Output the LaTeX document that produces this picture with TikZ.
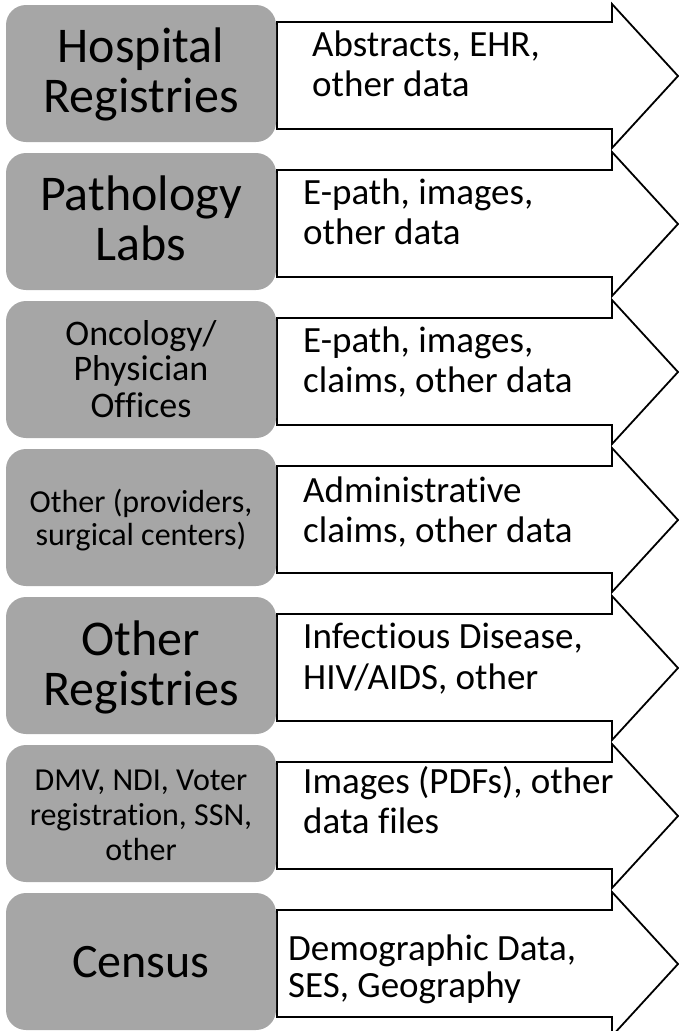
\documentclass[tikz,border=0pt]{standalone}
\usepackage{fontspec}
\setmainfont{Carlito}[Ligatures=NoCommon]
\definecolor{boxgray}{HTML}{A6A6A6}
\tikzset{
  srcbox/.style={fill=boxgray, draw=none, rounded corners=20pt, minimum width=270pt, minimum height=137pt, inner sep=0pt},
  flow/.style={fill=white, draw=black, line width=1.8pt, line join=miter},
  bigtxt/.style={anchor=base, inner sep=0pt, font=\fontsize{50}{50}\selectfont},
  midtxt/.style={anchor=base, inner sep=0pt, font=\fontsize{36}{36}\selectfont},
  smalltxt/.style={anchor=base, inner sep=0pt, font=\fontsize{32}{32}\selectfont},
  censustxt/.style={anchor=base, inner sep=0pt, font=\fontsize{48}{48}\selectfont},
  arrtxt/.style={anchor=base west, inner sep=0pt, font=\fontsize{37}{37}\selectfont},
}
\begin{document}
\begin{tikzpicture}[x=1pt,y=-1pt]
\useasboundingbox (0,0) rectangle (679,1031);
% arrows
\foreach \T in {5,153,301,449,597,745,893}{
  \draw[flow] (277,\T+17) -- (612,\T+17) -- (612,\T-1) -- (678,\T+71) -- (612,\T+143) -- (612,\T+124) -- (277,\T+124) -- cycle;
}
% boxes
\node[srcbox] (b1) at (141,73.5) {};
\node[srcbox] (b2) at (141,221.5) {};
\node[srcbox] (b3) at (141,369.5) {};
\node[srcbox] (b4) at (141,517.5) {};
\node[srcbox] (b5) at (141,665.5) {};
\node[srcbox] (b6) at (141,813.5) {};
\node[srcbox] (b7) at (141,961.5) {};
% box texts
\node[bigtxt] (t1a) at (141,62) {Hospital};
\node[bigtxt] (t1b) at (141,112) {Registries};
\node[bigtxt] (t2a) at (141,210) {Pathology};
\node[bigtxt] (t2b) at (141,260) {Labs};
\node[midtxt] (t3a) at (141,345) {Oncology/};
\node[midtxt] (t3b) at (141,380) {Physician};
\node[midtxt] (t3c) at (141,417) {Offices};
\node[smalltxt] (t4a) at (141,512) {Other (providers,};
\node[smalltxt] (t4b) at (141,545) {surgical centers)};
\node[bigtxt] (t5a) at (141,655) {Other};
\node[bigtxt] (t5b) at (141,705) {Registries};
\node[smalltxt] (t6a) at (141,790) {DMV, NDI, Voter};
\node[smalltxt] (t6b) at (141,825) {registration, SSN,};
\node[smalltxt] (t6c) at (141,860) {other};
\node[censustxt] (t7a) at (141,977) {Census};
% arrow texts
\node[arrtxt] (a1a) at (312,56) {Abstracts, EHR,};
\node[arrtxt] (a1b) at (312,96) {other data};
\node[arrtxt] (a2a) at (303,204) {E-path, images,};
\node[arrtxt] (a2b) at (303,244) {other data};
\node[arrtxt] (a3a) at (303,352) {E-path, images,};
\node[arrtxt] (a3b) at (303,392) {claims, other data};
\node[arrtxt] (a4a) at (303,502) {Administrative};
\node[arrtxt] (a4b) at (303,542) {claims, other data};
\node[arrtxt] (a5a) at (303,648) {Infectious Disease,};
\node[arrtxt] (a5b) at (303,689) {HIV/AIDS, other};
\node[arrtxt] (a6a) at (303,793) {Images (PDFs), other};
\node[arrtxt] (a6b) at (303,833) {data files};
\node[arrtxt] (a7a) at (288,960) {Demographic Data,};
\node[arrtxt] (a7b) at (288,997) {SES, Geography};
\end{tikzpicture}
\end{document}
